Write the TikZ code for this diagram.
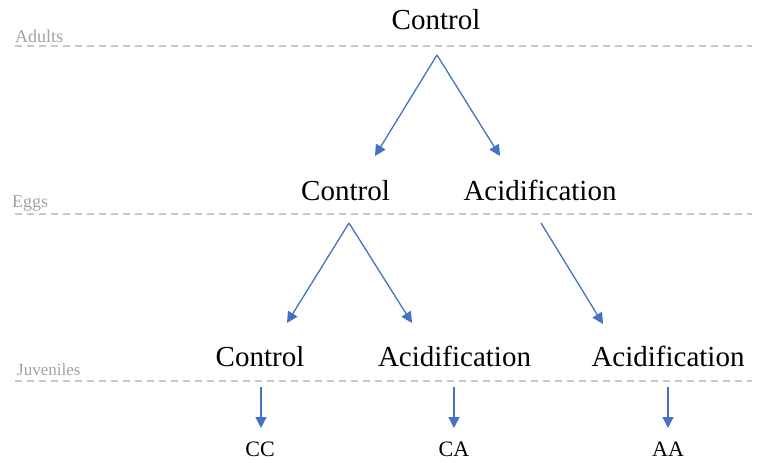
\documentclass[tikz,border=0pt]{standalone}
\usepackage{fontspec}
\setmainfont{Liberation Serif}
\usetikzlibrary{arrows.meta}
\definecolor{arrblue}{RGB}{68,114,196}
\definecolor{dashgray}{RGB}{200,200,200}
\definecolor{lblgray}{RGB}{165,160,163}
\begin{document}
\begin{tikzpicture}[x=1pt,y=-1pt,
  big/.style={font=\fontsize{29}{34}\selectfont, anchor=base, inner sep=0pt},
  small/.style={font=\fontsize{22}{26}\selectfont, anchor=base, inner sep=0pt},
  lvl/.style={font=\fontsize{18}{21}\selectfont, text=lblgray, anchor=base west, inner sep=0pt},
  sep/.style={draw=dashgray, line width=1.5pt, dash pattern=on 7pt off 5pt},
  arr/.style={draw=arrblue, line width=1.3pt, -{Triangle[length=11pt,width=11pt]}}
]
\useasboundingbox (0,0) rectangle (758,463);

% level separators
\coordinate (s1a) at (15,46);  \coordinate (s1b) at (752,46);
\coordinate (s2a) at (15,214); \coordinate (s2b) at (752,214);
\coordinate (s3a) at (15,381); \coordinate (s3b) at (752,381);
\draw[sep] (s1a) -- (s1b);
\draw[sep] (s2a) -- (s2b);
\draw[sep] (s3a) -- (s3b);

% level labels
\node[lvl] (adults) at (15,42) {Adults};
\node[lvl] (eggs) at (12,207) {Eggs};
\node[lvl, font=\fontsize{17}{20}\selectfont] (juv) at (17,375) {Juveniles};

% texts
\node[big] (top) at (436,29) {Control};
\node[big] (ec) at (345.5,200) {Control};
\node[big] (ea) at (540,200) {Acidification};
\node[big] (jc) at (260,366) {Control};
\node[big] (ja1) at (454.5,366) {Acidification};
\node[big] (ja2) at (668,366) {Acidification};
\node[small] (cc) at (260,456) {CC};
\node[small] (ca) at (454,456) {CA};
\node[small] (aa) at (668,456) {AA};

% arrow end points
\coordinate (p0) at (437,55);
\coordinate (p0l) at (375,156);
\coordinate (p0r) at (500,156);
\coordinate (p1) at (349,223);
\coordinate (p1l) at (287,323);
\coordinate (p1r) at (412,323);
\coordinate (p2) at (541,223);
\coordinate (p2r) at (603,324);
\coordinate (q1) at (261,387); \coordinate (q1e) at (261,428);
\coordinate (q2) at (454,387); \coordinate (q2e) at (454,428);
\coordinate (q3) at (668,387); \coordinate (q3e) at (668,428);

\draw[arr] (p0) -- (p0l);
\draw[arr] (p0) -- (p0r);
\draw[arr] (p1) -- (p1l);
\draw[arr] (p1) -- (p1r);
\draw[arr] (p2) -- (p2r);
\draw[arr] (q1) -- (q1e);
\draw[arr] (q2) -- (q2e);
\draw[arr] (q3) -- (q3e);
\end{tikzpicture}
\end{document}
